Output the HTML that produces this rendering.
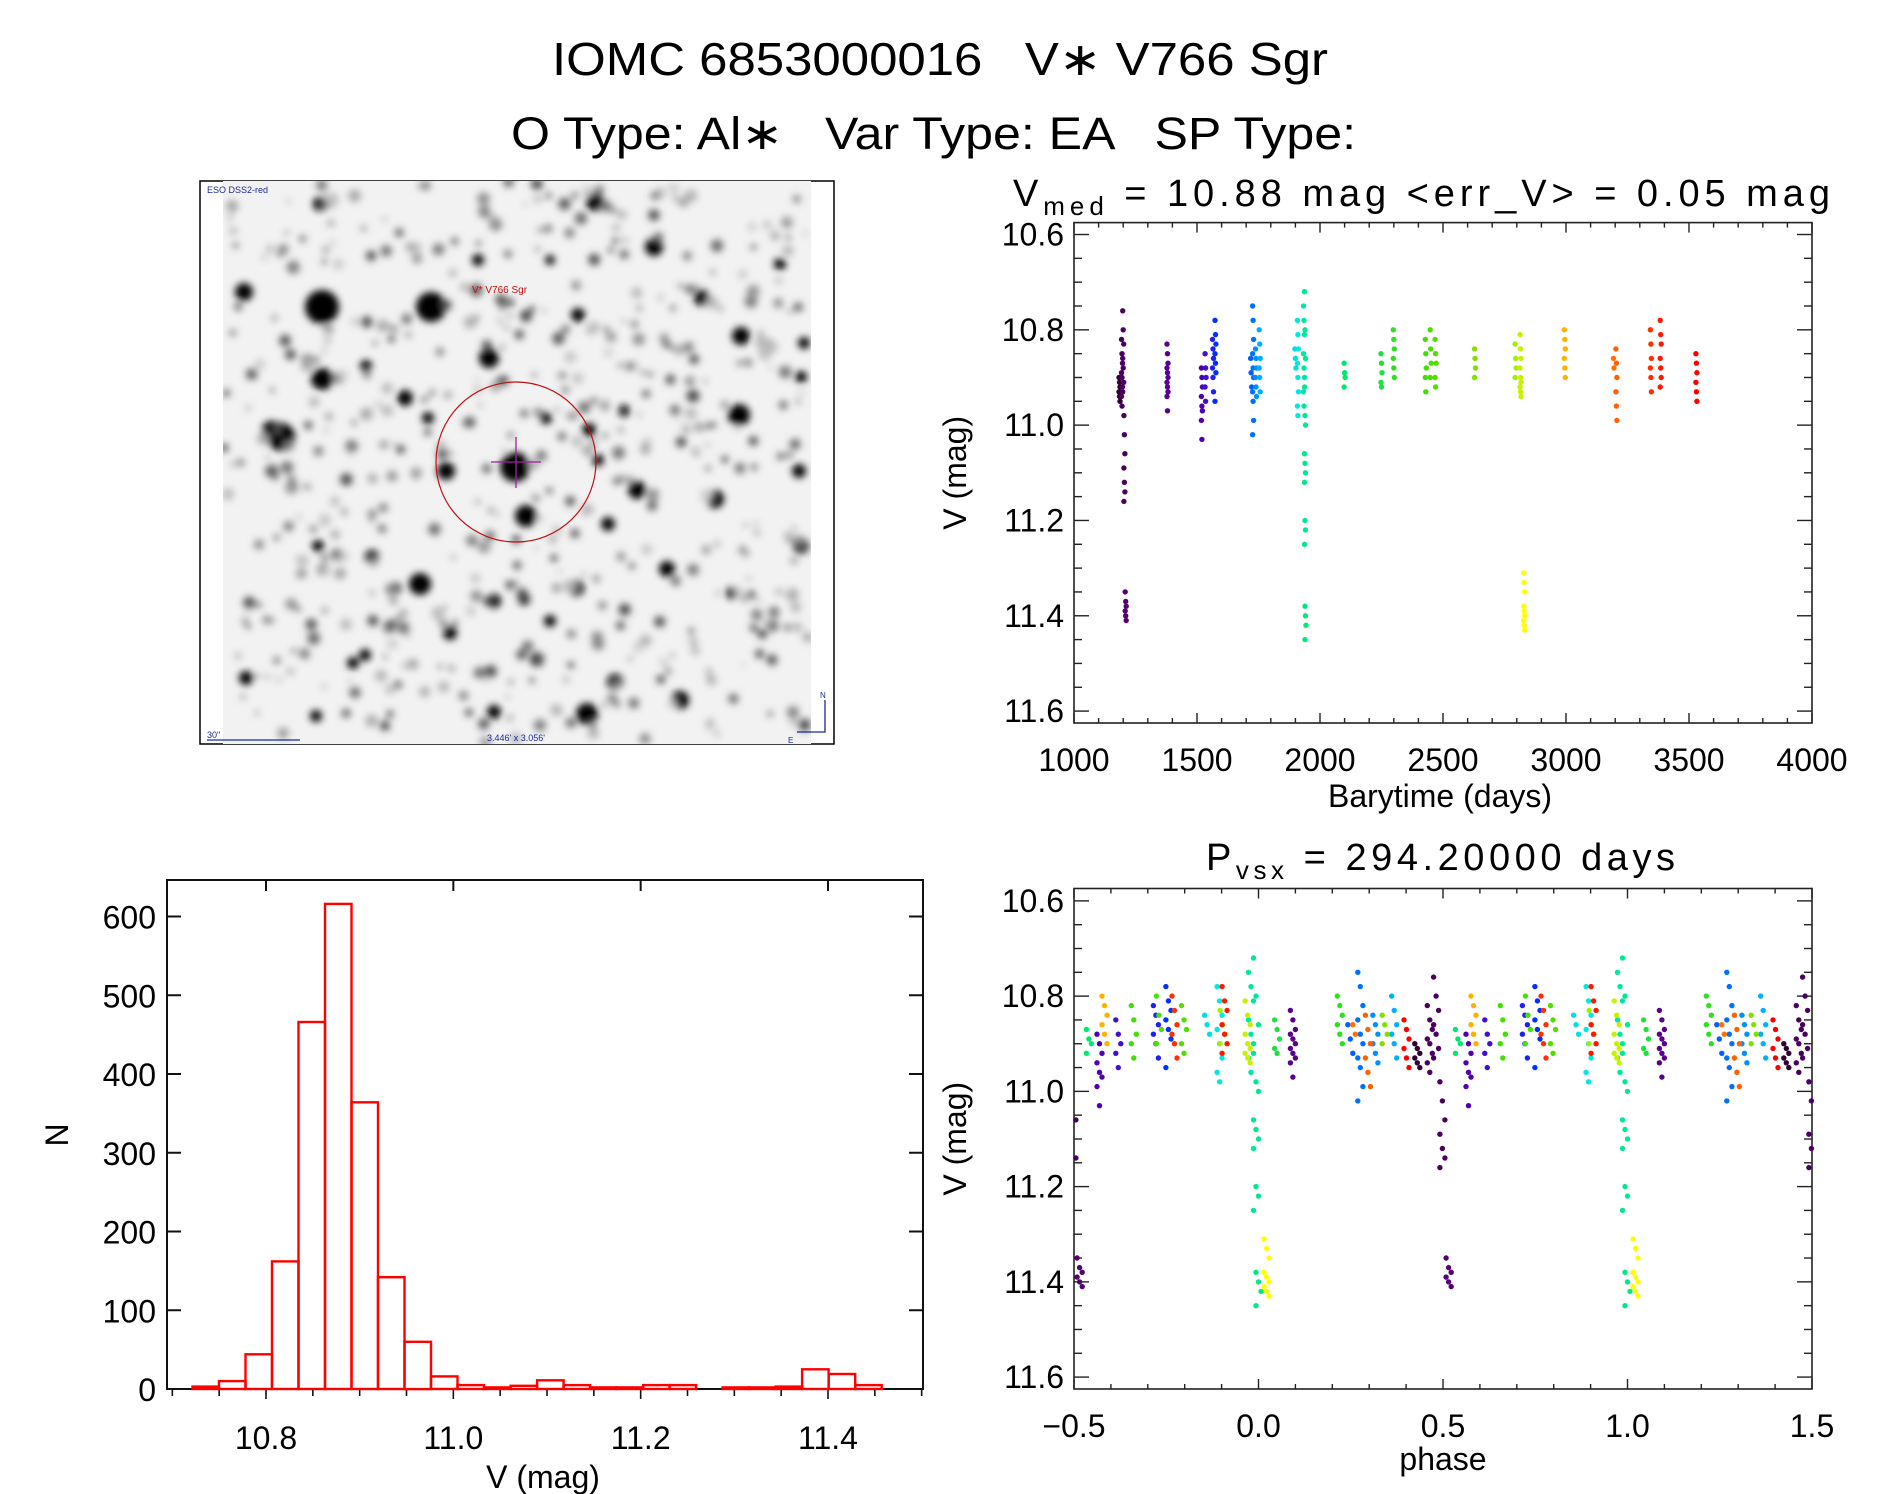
<!DOCTYPE html>
<html><head><meta charset="utf-8"><style>
html,body{margin:0;padding:0;background:#fff;}
svg{display:block;font-family:"Liberation Sans","DejaVu Sans",sans-serif;}
text{white-space:pre;}
</style></head><body>
<svg id="fig" width="1889" height="1494" viewBox="0 0 1889 1494" xmlns="http://www.w3.org/2000/svg" xml:space="preserve">
<defs>
<filter id="blur" x="-50%" y="-50%" width="200%" height="200%"><feGaussianBlur stdDeviation="3.8"/></filter>
<clipPath id="imgclip"><rect x="223" y="181" width="588" height="563"/></clipPath>
</defs>
<text x="552" y="75" font-size="46" textLength="776" lengthAdjust="spacingAndGlyphs" xml:space="preserve">IOMC 6853000016   V∗ V766 Sgr</text>
<text x="511" y="149" font-size="45" textLength="845" lengthAdjust="spacingAndGlyphs" xml:space="preserve">O Type: Al∗   Var Type: EA   SP Type:</text>

<g id="sky">
<rect x="200" y="181" width="634" height="563" fill="#fff" stroke="#000" stroke-width="1.5"/>
<rect x="223" y="181" width="588" height="563" fill="#f2f2f2"/>
<g id="stars" clip-path="url(#imgclip)" filter="url(#blur)"></g>
<text x="207" y="193" font-size="9" fill="#1a2a9a">ESO DSS2-red</text>
<text x="472" y="293" font-size="10" fill="#c01010">V* V766 Sgr</text>
<ellipse cx="516" cy="462" rx="80" ry="80" fill="none" stroke="#c01010" stroke-width="1.2"/>
<line x1="516" y1="437" x2="516" y2="488" stroke="#a020a0" stroke-width="1.3"/>
<line x1="491" y1="462" x2="541" y2="462" stroke="#a020a0" stroke-width="1.3"/>
<text x="207" y="738" font-size="9" fill="#1a2a9a">30"</text>
<line x1="207" y1="740" x2="300" y2="740" stroke="#1a2a9a" stroke-width="1.3"/>
<text x="516" y="741" font-size="9" fill="#1a2a9a" text-anchor="middle">3.446' x 3.056'</text>
<polyline points="825,700 825,732 797,732" fill="none" stroke="#1a2a9a" stroke-width="1.3"/>
<text x="820" y="698" font-size="8" fill="#1a2a9a">N</text>
<text x="788" y="743" font-size="8" fill="#1a2a9a">E</text>
</g>

<g id="lc"></g>
<g id="ph"></g>
<g id="hist"></g>
</svg>
<script>
// ---------- light curve data: season times, colours, magnitudes ----------
const seasonTimes = [1185,1195,1200,1205,1210,1380,1520,1535,1565,1575,1720,1728,1740,1755,1900,1910,1935,1939,1941,2100,2250,2300,2430,2450,2470,2630,2795,2815,2830,2995,3195,3205,3345,3385,3530];
const seasonColors = ["#300030","#4b0060","#4b0060","#4b0060","#550070","#5a0090","#5000b0","#4010d0","#2020f0","#0030ff","#0060ff","#0070ff","#0090ff","#00b0ff","#00e0e0","#00e8e0","#00e8a0","#00e890","#00e880","#00e870","#20e040","#30e020","#40e000","#48e000","#50e000","#80e000","#a0f000","#c8f000","#ffff00","#ffb000","#ff7000","#ff6000","#ff3000","#ff1800","#ff0000"];
const seasonMags = [
[10.90,10.91,10.92,10.93,10.94,10.95],
[10.82,10.85,10.87,10.89,10.90,10.92,10.94,10.96],
[10.76,10.80,10.83,10.86,10.88,10.91,10.93],
[10.98,11.02,11.06,11.09,11.12,11.14,11.16],
[11.35,11.37,11.38,11.39,11.40,11.41],
[10.83,10.85,10.87,10.88,10.89,10.90,10.91,10.92,10.93,10.94,10.97],
[10.88,10.90,10.92,10.94,10.96,10.97,10.99,11.03],
[10.85,10.88,10.90,10.92,10.95],
[10.82,10.84,10.86,10.88,10.90,10.93],
[10.78,10.81,10.83,10.85,10.87,10.89,10.95],
[10.86,10.89,10.92],
[10.75,10.78,10.82,10.85,10.88,10.90,10.93,10.95,10.99,11.02],
[10.84,10.86,10.88,10.90,10.92,10.94],
[10.80,10.83,10.86,10.88,10.90,10.93],
[10.84,10.86,10.88],
[10.78,10.81,10.84,10.87,10.90,10.93,10.96,10.98],
[10.75,10.78,10.81,10.85,10.88,10.90,10.93,10.96],
[10.72,10.80,10.86,10.92,10.98,11.00,11.06,11.08,11.10,11.12,11.20,11.22,11.25],
[11.38,11.40,11.42,11.45],
[10.87,10.89,10.90,10.92],
[10.85,10.87,10.89,10.91,10.92],
[10.80,10.82,10.84,10.86,10.88,10.90],
[10.82,10.85,10.88,10.90,10.93],
[10.80,10.84,10.87,10.90],
[10.82,10.85,10.87,10.90,10.92],
[10.84,10.86,10.88,10.90],
[10.83,10.86,10.88,10.90],
[10.81,10.84,10.86,10.88,10.90,10.91,10.92,10.93,10.94],
[11.31,11.33,11.35,11.38,11.39,11.40,11.41,11.42,11.43],
[10.80,10.82,10.84,10.86,10.88,10.90],
[10.86,10.88],
[10.84,10.87,10.90,10.93,10.96,10.99],
[10.80,10.83,10.86,10.88,10.90,10.93],
[10.78,10.81,10.83,10.86,10.88,10.90,10.92],
[10.85,10.87,10.89,10.91,10.93,10.95]
];
const period = 294.2;
const epoch = 1941;
const lcXTicks = [1000,1500,2000,2500,3000,3500,4000];
const magTicks = [10.6,10.8,11.0,11.2,11.4,11.6];
const phaseTicks = [-0.5,0.0,0.5,1.0,1.5];
const phaseTickLabels = ["\u22120.5","0.0","0.5","1.0","1.5"];
// ---------- histogram data ----------
const binStart = 10.7215;
const binWidth = 0.0283;
const binCounts = [3,10,44,162,466,616,364,142,60,16,5,2,4,11,5,2,2,5,5,0,2,2,3,25,19,5];
const histXTicks = [10.8,11.0,11.2,11.4];
const histYTicks = [0,100,200,300,400,500,600];

const NS = "http://www.w3.org/2000/svg";
function mk(parent, tag, attrs, txt){
  const e = document.createElementNS(NS, tag);
  for (const k in attrs) e.setAttribute(k, attrs[k]);
  if (txt !== undefined) e.textContent = txt;
  parent.appendChild(e); return e;
}
function lin(d0,d1,r0,r1){ return v => r0 + (v-d0)/(d1-d0)*(r1-r0); }

// ---------- star field (decorative image) ----------
const stars = document.getElementById('stars');
const bigStars = [[322,307,17],[431,307,15],[244,292,9],[322,379,11],[489,358,10],[281,437,14],[271,430,9],[741,336,9],[739,415,11],[654,247,9],[595,202,9],[515,467,15],[526,516,11],[446,471,9],[546,418,6],[637,490,9],[715,499,9],[799,471,7],[420,584,11],[576,588,8],[667,569,8],[587,714,11],[615,682,8],[680,700,9],[537,659,7],[450,633,7],[372,557,7],[318,546,6],[246,678,7],[353,663,6],[365,655,6],[405,398,8],[366,366,6],[428,418,6],[702,298,8],[801,546,8],[608,524,7],[732,593,6],[494,601,7],[524,599,6],[550,621,6],[320,204,7],[478,260,6],[550,260,5],[578,315,7],[780,264,6],[801,377,6],[589,430,7],[598,460,6],[272,471,6],[494,712,7],[316,716,6],[624,411,6],[804,343,6]];
bigStars.forEach(s => { mk(stars,'circle',{cx:s[0],cy:s[1],r:s[2],fill:'#000'}); });
let seed = 12345;
function rnd(){ seed = (seed*1103515245+12345) & 0x7fffffff; return seed/0x7fffffff; }
for (let i=0;i<520;i++){
  const x = 223 + rnd()*588, y = 181 + rnd()*563, r = 2 + rnd()*4.5, g = Math.floor(70 + rnd()*140);
  mk(stars,'circle',{cx:x.toFixed(1),cy:y.toFixed(1),r:r.toFixed(1),fill:`rgb(${g},${g},${g})`});
}

// ---------- generic framed axes ----------
function frame(g, L, T, R, B){
  mk(g,'rect',{x:L,y:T,width:R-L,height:B-T,fill:'none',stroke:'#222','stroke-width':1.6});
}
function magAxes(g, L, T, R, B, ym){
  for (let v=10.6; v<=11.6001; v+=0.05){
    const y = ym(v), major = Math.abs(v*5-Math.round(v*5))<1e-6;
    const len = major?15:8;
    mk(g,'line',{x1:L,y1:y,x2:L+len,y2:y,stroke:'#222','stroke-width':1.4});
    mk(g,'line',{x1:R,y1:y,x2:R-len,y2:y,stroke:'#222','stroke-width':1.4});
  }
  magTicks.forEach(v => {
    const t = mk(g,'text',{x:L-10,y:ym(v)+11,'font-size':32,'text-anchor':'end'}, v.toFixed(1));
    
    
  });
  const yt = mk(g,'text',{x:0,y:0,'font-size':32,'text-anchor':'middle',transform:`translate(966,${(T+B)/2}) rotate(-90)`}, 'V (mag)');
  
  
}
function xMinor(g, L, T, R, B, xm, d0, d1, step, majStep){
  const n = Math.round((d1-d0)/step);
  for (let i=0;i<=n;i++){
    const v = d0 + i*step, x = xm(v);
    const major = Math.abs(v/majStep - Math.round(v/majStep))<1e-6;
    const len = major?10:5;
    mk(g,'line',{x1:x,y1:B,x2:x,y2:B-len,stroke:'#222','stroke-width':1.4});
    mk(g,'line',{x1:x,y1:T,x2:x,y2:T+len,stroke:'#222','stroke-width':1.4});
  }
}

// ---------- light curve panel ----------
(function(){
  const g = document.getElementById('lc');
  const L=1074,R=1812,T=222.6,B=723;
  const xm = lin(1000,4000,L,R), ym = lin(10.575,11.625,T,B);
  frame(g,L,T,R,B);
  xMinor(g,L,T,R,B,xm,1000,4000,100,500);
  magAxes(g,L,T,R,B,ym);
  lcXTicks.forEach(v => {
    const t = mk(g,'text',{x:xm(v),y:771,'font-size':32,'text-anchor':'middle'}, String(v));
    
    
  });
  const xt = mk(g,'text',{x:1440,y:807,'font-size':32,'text-anchor':'middle'},'Barytime (days)');
  
  
  const tt = mk(g,'text',{x:1013,y:206,'font-size':38});
  
  
  mk(tt,'tspan',{},'V');
  mk(tt,'tspan',{'font-size':26,dy:9},'med');
  mk(tt,'tspan',{dy:-9},' = 10.88 mag <err_V> = 0.05 mag');
  tt.setAttribute('textLength','817');
  seasonTimes.forEach((t,i) => {
    seasonMags[i].forEach((v,j) => {
      const c = mk(g,'circle',{cx:xm(t + (j%3-1)*2).toFixed(1),cy:ym(v).toFixed(1),r:2.7,fill:seasonColors[i]});
      
      
    });
  });
})();

// ---------- phase panel ----------
(function(){
  const g = document.getElementById('ph');
  const L=1074,R=1812,T=888.5,B=1389;
  const xm = lin(-0.5,1.5,L,R), ym = lin(10.574,11.625,T,B);
  frame(g,L,T,R,B);
  xMinor(g,L,T,R,B,xm,-0.5,1.5,0.1,0.5);
  magAxes(g,L,T,R,B,ym);
  phaseTicks.forEach((v,i) => {
    const t = mk(g,'text',{x:xm(v),y:1437,'font-size':32,'text-anchor':'middle'}, phaseTickLabels[i]);
    
    
  });
  const xt = mk(g,'text',{x:1443,y:1470,'font-size':32,'text-anchor':'middle'},'phase');
  
  
  const tt = mk(g,'text',{x:1206,y:870,'font-size':38});
  
  
  mk(tt,'tspan',{},'P');
  mk(tt,'tspan',{'font-size':26,dy:9},'vsx');
  mk(tt,'tspan',{dy:-9},' = 294.20000 days');
  tt.setAttribute('textLength','469');
  seasonTimes.forEach((t,i) => {
    seasonMags[i].forEach((v,j) => {
      const tt2 = t + (j%3-1)*2;
      let p = ((tt2-epoch)/period) % 1; if (p<0) p+=1;
      [p-1, p, p+1].forEach(ph => {
        if (ph < -0.5 || ph > 1.5) return;
        const c = mk(g,'circle',{cx:xm(ph).toFixed(1),cy:ym(v).toFixed(1),r:2.7,fill:seasonColors[i]});
        
        
      });
    });
  });
})();

// ---------- histogram panel ----------
(function(){
  const g = document.getElementById('hist');
  const L=167,R=923,T=880,B=1389;
  const xm = lin(10.8,11.4,266,828), ym = lin(0,600,1389,916.5);
  mk(g,'rect',{x:L,y:T,width:R-L,height:B-T,fill:'none',stroke:'#111','stroke-width':2});
  histYTicks.forEach(v => {
    const y = ym(v);
    mk(g,'line',{x1:L,y1:y,x2:L+14,y2:y,stroke:'#111','stroke-width':2});
    mk(g,'line',{x1:R,y1:y,x2:R-14,y2:y,stroke:'#111','stroke-width':2});
    const t = mk(g,'text',{x:156,y:y+12,'font-size':32,'text-anchor':'end'}, String(v));
    
    
  });
  for (let i=0;i<=16;i++){
    const v = 10.7 + i*0.05, x = xm(v);
    const major = Math.abs(v/0.2-Math.round(v/0.2))<1e-6;
    mk(g,'line',{x1:x,y1:B,x2:x,y2:B+(major?10:7),stroke:'#111','stroke-width':1.6});
    if (major) mk(g,'line',{x1:x,y1:T,x2:x,y2:T+11,stroke:'#111','stroke-width':2});
  }
  histXTicks.forEach(v => {
    const t = mk(g,'text',{x:xm(v),y:1449,'font-size':32,'text-anchor':'middle'}, v.toFixed(1));
    
    
  });
  const xt = mk(g,'text',{x:543,y:1488,'font-size':32,'text-anchor':'middle'},'V (mag)');
  
  
  const yt = mk(g,'text',{x:0,y:0,'font-size':32,'text-anchor':'middle',transform:'translate(68,1135) rotate(-90)'},'N');
  
  
  binCounts.forEach((n,i) => {
    const x0 = xm(binStart + i*binWidth), x1 = xm(binStart + (i+1)*binWidth);
    const b = mk(g,'rect',{x:x0.toFixed(1),y:ym(n).toFixed(1),width:(x1-x0).toFixed(1),height:(ym(0)-ym(n)).toFixed(1),fill:'none',stroke:'#ff0000','stroke-width':2.4});
    
    
  });
})();
</script>
</body></html>
